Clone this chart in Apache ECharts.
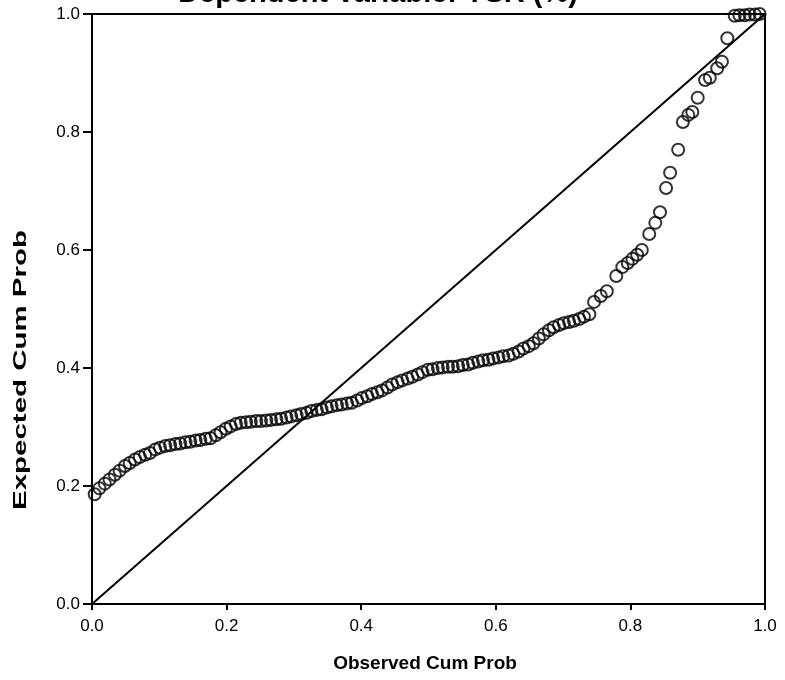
<!DOCTYPE html>
<html>
<head>
<meta charset="utf-8">
<script src="https://cdn.jsdelivr.net/npm/echarts@6/dist/echarts.min.js"></script>
<style>
  html, body { margin: 0; padding: 0; background: #fff; }
  #chart { width: 785px; height: 680px; }
</style>
</head>
<body>
<div id="chart"></div>
<script>
// observed cumulative probability (x) and expected cumulative probability (y)
const observed = [
  0.004, 0.011, 0.019, 0.026, 0.034, 0.041, 0.049, 0.056, 0.064, 0.071,
  0.079, 0.086, 0.094, 0.101, 0.109, 0.116, 0.124, 0.131, 0.139, 0.146,
  0.154, 0.161, 0.169, 0.176, 0.184, 0.191, 0.199, 0.206, 0.214, 0.221,
  0.229, 0.236, 0.244, 0.251, 0.259, 0.266, 0.274, 0.281, 0.289, 0.296,
  0.304, 0.311, 0.319, 0.326, 0.334, 0.341, 0.349, 0.356, 0.364, 0.371,
  0.379, 0.386, 0.394, 0.401, 0.409, 0.416, 0.424, 0.431, 0.439, 0.446,
  0.454, 0.461, 0.469, 0.476, 0.484, 0.491, 0.499, 0.506, 0.514, 0.521,
  0.529, 0.536, 0.544, 0.551, 0.559, 0.566, 0.574, 0.581, 0.589, 0.596,
  0.604, 0.611, 0.619, 0.626, 0.634, 0.641, 0.649, 0.656, 0.664, 0.671,
  0.679, 0.686, 0.694, 0.701, 0.709, 0.716, 0.724, 0.731, 0.739, 0.746,
  0.756, 0.765, 0.779, 0.788, 0.796, 0.803, 0.810, 0.817, 0.828, 0.837,
  0.844, 0.853, 0.859, 0.871, 0.878, 0.886, 0.892, 0.900, 0.911, 0.918,
  0.929, 0.936, 0.944, 0.955, 0.962, 0.970, 0.977, 0.985, 0.992
]
const expected = [
  0.186, 0.196, 0.204, 0.211, 0.219, 0.226, 0.234, 0.239, 0.245, 0.249,
  0.253, 0.256, 0.262, 0.265, 0.268, 0.269, 0.271, 0.272, 0.274, 0.275,
  0.277, 0.278, 0.280, 0.281, 0.286, 0.291, 0.297, 0.301, 0.305, 0.307,
  0.308, 0.309, 0.310, 0.310, 0.311, 0.312, 0.313, 0.314, 0.316, 0.318,
  0.320, 0.322, 0.324, 0.327, 0.329, 0.330, 0.333, 0.335, 0.337, 0.338,
  0.340, 0.341, 0.345, 0.349, 0.352, 0.356, 0.359, 0.362, 0.367, 0.372,
  0.376, 0.379, 0.382, 0.385, 0.389, 0.393, 0.397, 0.398, 0.400, 0.401,
  0.402, 0.402, 0.403, 0.405, 0.406, 0.409, 0.411, 0.413, 0.414, 0.416,
  0.418, 0.420, 0.421, 0.424, 0.428, 0.433, 0.437, 0.442, 0.450, 0.457,
  0.464, 0.469, 0.473, 0.476, 0.478, 0.480, 0.483, 0.487, 0.491, 0.512,
  0.522, 0.530, 0.556, 0.571, 0.578, 0.585, 0.592, 0.600, 0.627, 0.646,
  0.664, 0.705, 0.731, 0.770, 0.817, 0.829, 0.834, 0.858, 0.888, 0.892,
  0.908, 0.919, 0.959, 0.997, 0.998, 0.998, 0.999, 0.999, 1.000
]
const refLine = [[0, 0], [1, 1]]
const titleText = 'Dependent Variable: YSR (%)'
const xName = 'Observed Cum Prob'
const yName = 'Expected Cum Prob'

const chart = echarts.init(document.getElementById('chart'), null, { renderer: 'canvas' })

const axisCommon = {
  type: 'value',
  min: 0,
  max: 1,
  interval: 0.2,
  splitLine: { show: false },
  axisLine: { show: true, lineStyle: { color: '#000', width: 2 } },
  axisTick: { show: true, inside: false, lineStyle: { color: '#000', width: 2 } },
  axisLabel: {
    color: '#000',
    fontFamily: 'Arial, Liberation Sans, sans-serif',
    fontSize: 17,
    formatter: (v) => v.toFixed(1),
  },
}

chart.setOption({
  animation: false,
  backgroundColor: '#fff',
  grid: {
    left: 92, right: 20, top: 14, bottom: 76,
    show: true, borderColor: '#000', borderWidth: 2, backgroundColor: 'transparent',
  },
  xAxis: {
    ...axisCommon,
    axisTick: { ...axisCommon.axisTick, length: 6 },
    axisLabel: { ...axisCommon.axisLabel, margin: 14 },
  },
  yAxis: {
    ...axisCommon,
    axisTick: { ...axisCommon.axisTick, length: 9 },
    axisLabel: { ...axisCommon.axisLabel, margin: 12 },
  },
  graphic: [
    {
      type: 'text', x: 378, y: 8,
      style: {
        text: titleText, fill: '#000', textAlign: 'center', textVerticalAlign: 'bottom',
        font: 'bold 29px Arial, Liberation Sans, sans-serif',
      },
    },
    {
      type: 'text', x: 425, y: 664,
      style: {
        text: xName, fill: '#000', textAlign: 'center', textVerticalAlign: 'middle',
        font: 'bold 19px Arial, Liberation Sans, sans-serif',
      },
    },
    {
      type: 'text', x: 21, y: 370, rotation: Math.PI / 2, scaleX: 1.55,
      style: {
        text: yName, fill: '#000', textAlign: 'center', textVerticalAlign: 'middle',
        font: 'bold 19px Arial, Liberation Sans, sans-serif',
      },
    },
  ],
  series: [
    {
      type: 'line',
      data: refLine,
      symbol: 'none',
      silent: true,
      lineStyle: { color: '#000', width: 2 },
      z: 1,
    },
    {
      type: 'scatter',
      data: observed.map((x, i) => [x, expected[i]]),
      symbol: 'circle',
      symbolSize: 12,
      itemStyle: { color: 'rgba(255,255,255,0)', borderColor: '#000', borderWidth: 2 },
      z: 2,
    },
  ],
})
</script>
</body>
</html>
